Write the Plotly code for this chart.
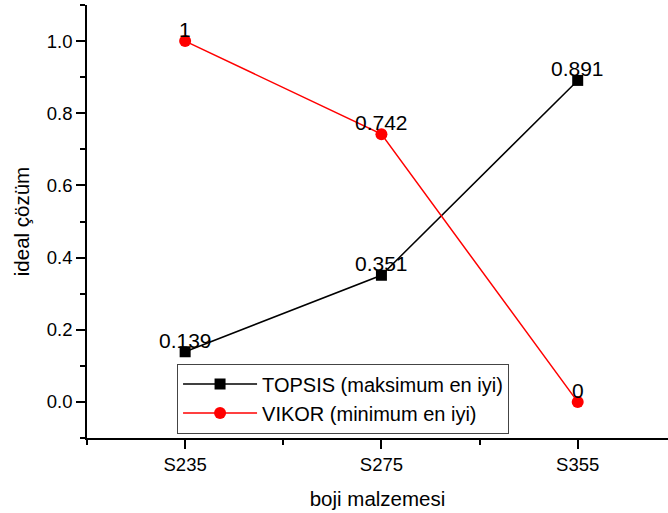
import plotly.graph_objects as go

categories = ["S235", "S275", "S355"]
topsis = [0.139, 0.351, 0.891]
vikor = [1, 0.742, 0]
topsis_labels = ["0.139", "0.351", "0.891"]
vikor_labels = ["1", "0.742", "0"]

xpos = list(range(len(categories)))
font = "Liberation Sans, Arial, sans-serif"

fig = go.Figure()
fig.add_trace(go.Scatter(
    x=xpos, y=topsis, mode="lines+markers", name="TOPSIS (maksimum en iyi)",
    line=dict(color="black", width=1.5),
    marker=dict(symbol="square", size=11, color="black"),
))
fig.add_trace(go.Scatter(
    x=xpos, y=vikor, mode="lines+markers", name="VIKOR (minimum en iyi)",
    line=dict(color="red", width=1.5),
    marker=dict(symbol="circle", size=12, color="red"),
))

for xs, ys, labels in [(xpos, topsis, topsis_labels), (xpos, vikor, vikor_labels)]:
    for xv, yv, lab in zip(xs, ys, labels):
        fig.add_annotation(x=xv, y=yv, text=lab, showarrow=False,
                           xanchor="center", yanchor="bottom", yshift=-2,
                           font=dict(family=font, size=21, color="black"))

fig.update_layout(
    width=668, height=513,
    margin=dict(l=87, r=0, t=5, b=75),
    paper_bgcolor="white", plot_bgcolor="white",
    font=dict(family=font, size=18.5, color="black"),
    showlegend=True,
    legend=dict(
        x=0.155, y=0.172, xanchor="left", yanchor="top",
        bordercolor="#444", borderwidth=1, bgcolor="white",
        font=dict(family=font, size=20, color="black"),
        itemwidth=74, tracegroupgap=0,
    ),
    xaxis=dict(
        range=[-0.5, 2.46], tickmode="array", tickvals=xpos, ticktext=categories,
        showline=True, linecolor="black", linewidth=1.5, mirror=False,
        ticks="outside", ticklen=9, tickwidth=1.5, tickcolor="black",
        minor=dict(dtick=0.5, tick0=-0.5, ticks="outside", ticklen=5, tickwidth=1.5, tickcolor="black"),
        showgrid=False, zeroline=False,
        tickfont=dict(size=18.5),
        title=dict(text="boji malzemesi", font=dict(size=20.5), standoff=18),
    ),
    yaxis=dict(
        range=[-0.1, 1.1], tickmode="linear", tick0=0, dtick=0.2, tickformat=".1f",
        showline=True, linecolor="black", linewidth=1.5,
        ticks="outside", ticklen=9, tickwidth=1.5, tickcolor="black",
        minor=dict(dtick=0.1, tick0=0, ticks="outside", ticklen=5, tickwidth=1.5, tickcolor="black"),
        showgrid=False, zeroline=False,
        tickfont=dict(size=18.5),
        title=dict(text="ideal çözüm", font=dict(size=20.5), standoff=12),
    ),
)

fig.write_html("out.html")
